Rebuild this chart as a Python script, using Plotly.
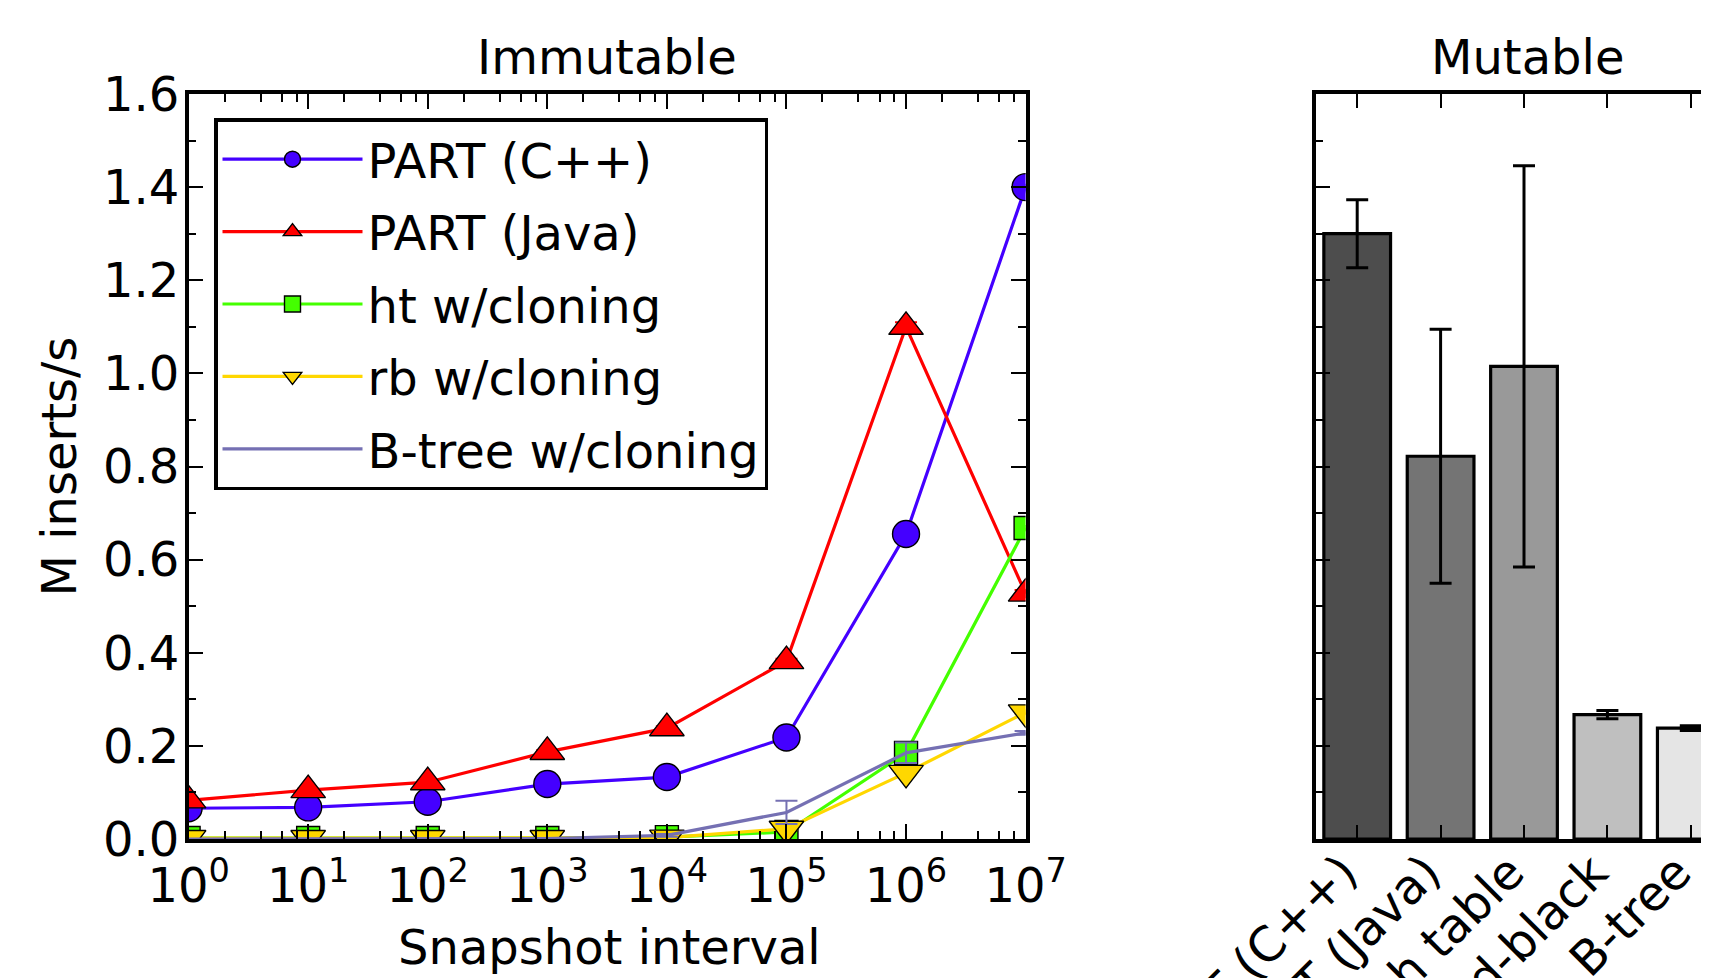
import plotly.graph_objects as go

W, H = 1709, 978

# ---------------- data ----------------
intervals = [1e0, 1e1, 1e2, 1e3, 1e4, 1e5, 1e6, 1e7]
interval_labels = ["10<sup>%d</sup>" % k for k in range(8)]

part_cpp = [0.066, 0.068, 0.080, 0.118, 0.133, 0.218, 0.655, 1.400]
part_cpp_err = [0.002, 0.002, 0.002, 0.003, 0.003, 0.004, 0.006, 0.005]
part_java = [0.083, 0.105, 0.122, 0.187, 0.238, 0.382, 1.100, 0.527]
part_java_err = [0.003, 0.003, 0.003, 0.004, 0.004, 0.005, 0.010, 0.008]
ht_clone = [0.002, 0.002, 0.002, 0.002, 0.004, 0.015, 0.185, 0.668]
ht_clone_err = [0.001, 0.001, 0.001, 0.001, 0.001, 0.002, 0.003, 0.004]
rb_clone = [0.002, 0.002, 0.002, 0.002, 0.003, 0.022, 0.142, 0.272]
rb_clone_err = [0.001, 0.001, 0.001, 0.001, 0.001, 0.002, 0.003, 0.004]
btree_clone = [0.000, 0.000, 0.000, 0.001, 0.008, 0.057, 0.185, 0.228]
btree_clone_err = [0.000, 0.000, 0.000, 0.001, 0.003, 0.025, 0.022, 0.004]

mutable_names = ["PART (C++)", "PART (Java)", "Hash table", "Red-black", "B-tree"]
mutable_vals = [1.300, 0.822, 1.015, 0.267, 0.238]
mutable_err = [0.073, 0.273, 0.431, 0.009, 0.005]
mutable_colors = ["#4d4d4d", "#747474", "#999999", "#bfbfbf", "#e5e5e5"]

y_ticks_major = [0.0, 0.2, 0.4, 0.6, 0.8, 1.0, 1.2, 1.4, 1.6]
log_minor = [m * 10 ** k for k in range(7) for m in (2, 4, 6, 8)]

FONT = "DejaVu Sans"
TICKF = 48
TXTF = 48

# ---------------- geometry (screen pixels, page has 8px body margin) ----------------
OFF = 8

def px_x(p):
    return (p - OFF) / W

def px_y(p):
    return (H - (p - OFF)) / H

L_x0, L_x1 = 188.6, 1025.6
R_x0 = 1315.5
Y_top, Y_bot = 94, 839
cat_step = 83.4
r_max = (W + OFF - R_x0) / cat_step - 0.5

fig = go.Figure()

series = [
    ("PART (C++)", part_cpp, part_cpp_err, "#4400ff", "circle", 27),
    ("PART (Java)", part_java, part_java_err, "#ff0000", "triangle-up", 30),
    ("ht w/cloning", ht_clone, ht_clone_err, "#44ff00", "square", 23),
    ("rb w/cloning", rb_clone, rb_clone_err, "#ffd700", "triangle-down", 30),
]
for i, (name, ys, es, col, sym, sz) in enumerate(series):
    fig.add_trace(go.Scatter(
        x=intervals, y=ys, name=name, mode="lines+markers",
        line=dict(color=col, width=3.2),
        marker=dict(symbol=sym, size=sz, color=col, line=dict(color="black", width=1.4)),
        error_y=dict(type="data", array=es, color=col, thickness=2, width=11),
        xaxis="x", yaxis="y", legendgroup="g%d" % i,
    ))
fig.add_trace(go.Scatter(
    x=intervals, y=btree_clone, name="B-tree w/cloning", mode="lines",
    line=dict(color="#7570b3", width=3.2),
    error_y=dict(type="data", array=btree_clone_err, color="#7570b3", thickness=2, width=11),
    xaxis="x", yaxis="y", legendgroup="g4",
))

fig.add_trace(go.Bar(
    x=mutable_names, y=mutable_vals, width=0.8,
    marker=dict(color=mutable_colors, line=dict(color="black", width=3.2)),
    error_y=dict(type="data", array=mutable_err, color="black", thickness=3, width=11),
    xaxis="x2", yaxis="y2", showlegend=False,
))

axis_common = dict(showline=True, linewidth=3.5, linecolor="black", ticks="inside",
                   tickcolor="black", tickwidth=2, showgrid=False, zeroline=False,
                   automargin=False,
                   tickfont=dict(family=FONT, size=TICKF, color="black"))

fig.update_layout(
    width=W, height=H,
    margin=dict(l=0, r=0, t=0, b=0, autoexpand=False),
    paper_bgcolor="white", plot_bgcolor="white",
    font=dict(family=FONT, color="black", size=TXTF),
    xaxis=dict(axis_common, type="log", range=[0, 7], domain=[px_x(L_x0), px_x(L_x1)],
               tickvals=intervals, ticktext=interval_labels, ticklen=15, mirror="allticks",
               ticklabelstandoff=2,
               minor=dict(tickvals=log_minor, ticks="inside", ticklen=8, tickwidth=2, tickcolor="black"),
               anchor="y"),
    yaxis=dict(axis_common, range=[0, 1.6], domain=[px_y(Y_bot), px_y(Y_top)],
               tickvals=y_ticks_major, tickformat=".1f", ticklen=15, mirror="allticks",
               ticklabelstandoff=-4,
               minor=dict(dtick=0.1, tick0=0, ticks="inside", ticklen=8, tickwidth=2, tickcolor="black"),
               anchor="x"),
    xaxis2=dict(axis_common, type="category", range=[-0.5, r_max], domain=[px_x(R_x0), 1.0],
                ticklen=14, mirror="ticks", tickangle=-45, ticklabelstandoff=-18,
                ticklabelshift=-14, anchor="y2"),
    yaxis2=dict(axis_common, range=[0, 1.6], domain=[px_y(Y_bot), px_y(Y_top)],
                tickvals=y_ticks_major, showticklabels=False, ticklen=15, mirror=False,
                minor=dict(dtick=0.1, tick0=0, ticks="inside", ticklen=8, tickwidth=2, tickcolor="black"),
                anchor="x2"),
    legend=dict(x=px_x(214), y=px_y(118), xanchor="left", yanchor="top",
                bordercolor="black", borderwidth=3.5, bgcolor="white",
                font=dict(family=FONT, size=TXTF, color="black"),
                traceorder="grouped", tracegroupgap=7, itemwidth=140),
    showlegend=True,
    annotations=[
        dict(text="Immutable", x=px_x((L_x0 + L_x1) / 2), y=px_y(87), xref="paper", yref="paper",
             xanchor="center", yanchor="bottom", showarrow=False, font=dict(size=TXTF)),
        dict(text="Mutable", x=px_x(1527), y=px_y(87), xref="paper", yref="paper",
             xanchor="center", yanchor="bottom", showarrow=False, font=dict(size=TXTF)),
        dict(text="M inserts/s", x=px_x(58), y=px_y((Y_top + Y_bot) / 2), xref="paper", yref="paper",
             xanchor="center", yanchor="middle", textangle=-90, showarrow=False, font=dict(size=TXTF)),
        dict(text="Snapshot interval", x=px_x(609), y=px_y(947), xref="paper", yref="paper",
             xanchor="center", yanchor="middle", showarrow=False, font=dict(size=TXTF)),
    ],
)

fig.write_html("out.html")
